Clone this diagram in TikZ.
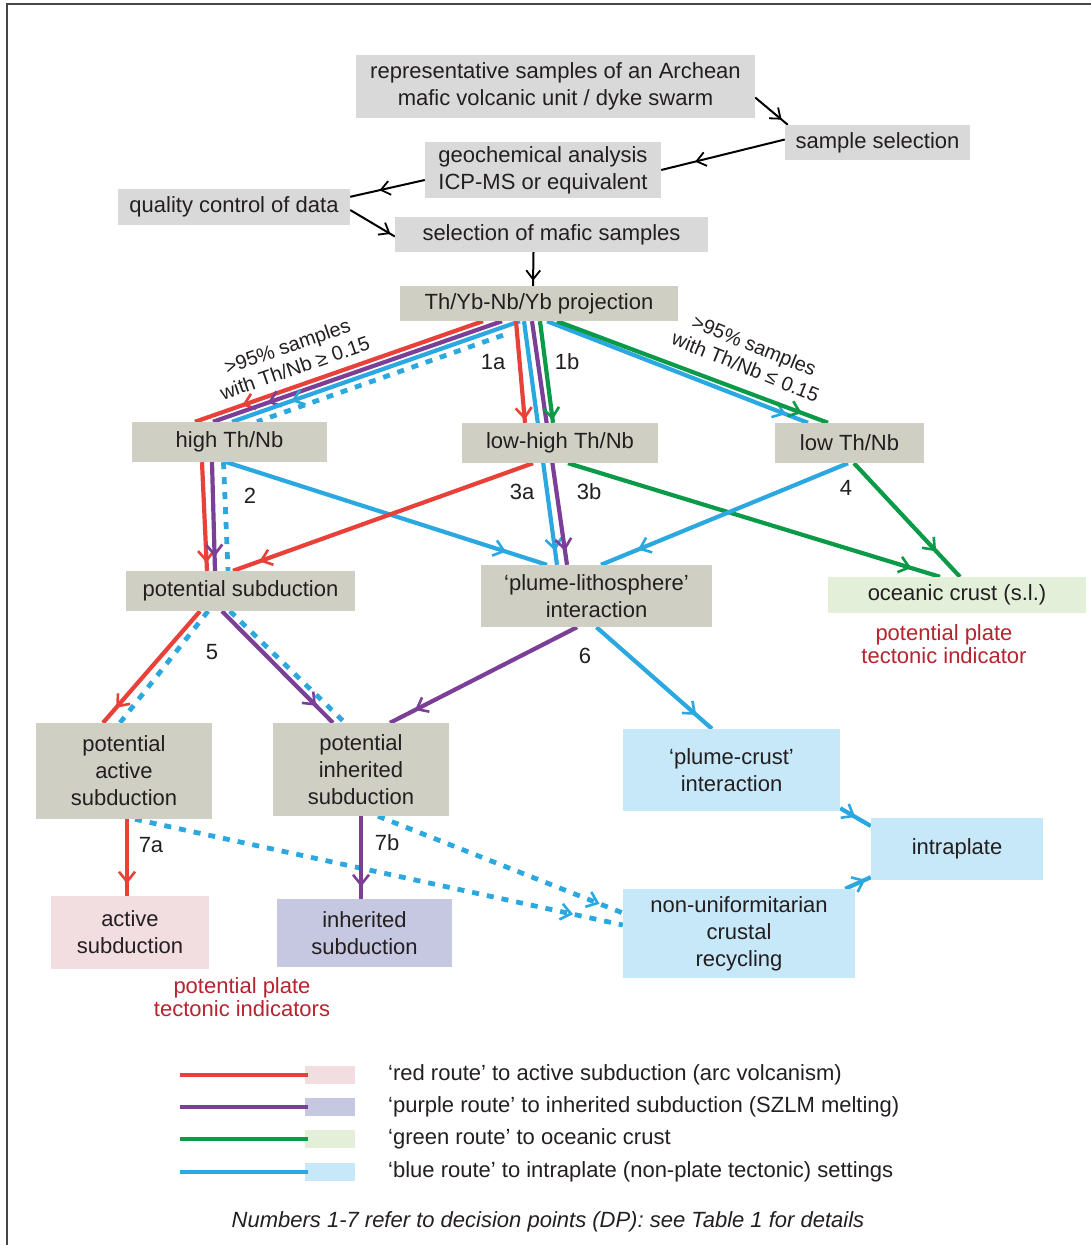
\documentclass[tikz,border=0pt]{standalone}
\usepackage{fontspec}
\setmainfont{Liberation Sans}
\usetikzlibrary{arrows.meta,decorations.markings,calc,backgrounds}
\definecolor{cRed}{RGB}{232,65,58}
\definecolor{cPurple}{RGB}{123,63,152}
\definecolor{cGreen}{RGB}{10,154,72}
\definecolor{cBlue}{RGB}{42,168,223}
\definecolor{cGray}{RGB}{217,217,217}
\definecolor{cKhaki}{RGB}{208,207,195}
\definecolor{cPink}{RGB}{242,221,224}
\definecolor{cLav}{RGB}{198,199,225}
\definecolor{cLGreen}{RGB}{227,239,217}
\definecolor{cLBlue}{RGB}{198,232,248}
\definecolor{cDRed}{RGB}{181,36,47}
\definecolor{cText}{RGB}{35,31,32}
\definecolor{cFrame}{RGB}{70,70,70}
\begin{document}
\begin{tikzpicture}[x=1pt,y={(0pt,-1pt)},
  box/.style={inner sep=0pt,align=center,font=\fontsize{22}{27}\selectfont,text=cText},
  gbox/.style={box,fill=cGray},
  kbox/.style={box,fill=cKhaki},
  lbl/.style={font=\fontsize{22}{27}\selectfont,text=cText,inner sep=0pt},
  rlbl/.style={font=\fontsize{20}{23}\selectfont,text=cText,inner sep=0pt,align=center},
  ind/.style={font=\fontsize{22}{23}\selectfont,text=cDRed,align=center,inner sep=0pt},
  blk/.style={draw=black,line width=2pt},
  route/.style={line width=4.2pt},
  am/.style={postaction={decorate},decoration={markings,mark=at position #1 with {\arrow{Straight Barb[length=10pt,width=16pt,line width=2.6pt]}}}},
  bam/.style={postaction={decorate},decoration={markings,mark=at position #1 with {\arrow{Straight Barb[length=9pt,width=14pt,line width=1.8pt]}}}},
  dots/.style={line width=4.8pt,dash pattern=on 7pt off 8pt},
]
\useasboundingbox (0,0) rectangle (1091,1245);
% boxes
\node[gbox,minimum width=399pt,minimum height=63pt] (rep) at (555.5,86.5) {representative samples of an Archean\\mafic volcanic unit / dyke swarm};
\node[gbox,minimum width=185pt,minimum height=35pt] (sel) at (877.5,142.5) {sample selection};
\node[gbox,minimum width=236pt,minimum height=56pt] (geo) at (543,170) {geochemical analysis\\ICP-MS or equivalent};
\node[gbox,minimum width=232pt,minimum height=36pt] (qc) at (234,207) {quality control of data};
\node[gbox,minimum width=313pt,minimum height=35pt] (maf) at (551.5,234.5) {selection of mafic samples};
\node[kbox,minimum width=278pt,minimum height=35pt] (proj) at (539,303.5) {Th/Yb-Nb/Yb projection};
\node[kbox,minimum width=195pt,minimum height=40pt] (high) at (229.5,442) {high Th/Nb};
\node[kbox,minimum width=196pt,minimum height=40pt] (lowhigh) at (560,443) {low-high Th/Nb};
\node[kbox,minimum width=149pt,minimum height=40pt] (low) at (849.5,443) {low Th/Nb};
\node[kbox,minimum width=229pt,minimum height=40pt] (psub) at (240.5,591) {potential subduction};
\node[kbox,minimum width=231pt,minimum height=62pt] (plith) at (596.5,596) {‘plume-lithosphere’\\interaction};
\node[box,fill=cLGreen,minimum width=258pt,minimum height=36pt] (ocean) at (957,595) {oceanic crust (s.l.)};
\node[kbox,minimum width=176pt,minimum height=96pt] (pas) at (124,771) {potential\\active\\subduction};
\node[kbox,minimum width=176pt,minimum height=93pt] (pis) at (361,769.5) {potential\\inherited\\subduction};
\node[box,fill=cLBlue,minimum width=217pt,minimum height=82pt] (pcrust) at (731.5,770) {‘plume-crust’\\interaction};
\node[box,fill=cLBlue,minimum width=172pt,minimum height=62pt] (intra) at (957,849) {intraplate};
\node[box,fill=cLBlue,minimum width=232pt,minimum height=89pt] (nucr) at (739,933.5) {non-uniformitarian\\crustal\\recycling};
\node[box,fill=cPink,minimum width=158pt,minimum height=73pt] (as) at (130,932.5) {active\\subduction};
\node[box,fill=cLav,minimum width=175pt,minimum height=68pt] (is) at (364.5,933) {inherited\\subduction};
% labels
\node[rlbl,rotate=19] (lblL) at (291,357) {>95\% samples\\with Th/Nb ≥ 0.15};
\node[rlbl,rotate=-22] (lblR) at (750,356) {>95\% samples\\with Th/Nb ≤ 0.15};
\node[lbl] (n1a) at (493,362) {1a};
\node[lbl] (n1b) at (567,362) {1b};
\node[lbl] (n2) at (250,496) {2};
\node[lbl] (n3a) at (522,492) {3a};
\node[lbl] (n3b) at (589,492) {3b};
\node[lbl] (n4) at (846,488) {4};
\node[lbl] (n5) at (212,652) {5};
\node[lbl] (n6) at (585,656) {6};
\node[lbl] (n7a) at (151,845) {7a};
\node[lbl] (n7b) at (387,843) {7b};
\node[ind] (ind1) at (944,644) {potential plate\\tectonic indicator};
\node[ind] (ind2) at (242,997) {potential plate\\tectonic indicators};
% legend
\foreach \yy/\cc/\ss/\nm/\tt in {1075/cRed/cPink/legA/{‘red route’ to active subduction (arc volcanism)},
  1107/cPurple/cLav/legB/{‘purple route’ to inherited subduction (SZLM melting)},
  1139/cGreen/cLGreen/legC/{‘green route’ to oceanic crust},
  1172/cBlue/cLBlue/legD/{‘blue route’ to intraplate (non-plate tectonic) settings}}{
  \fill[\ss] (305,\yy-9) rectangle (355,\yy+9);
  \draw[route,\cc] (180,\yy) -- (308,\yy);
  \node[lbl,anchor=west] (\nm) at (388,\yy) {\tt};
}
\node[lbl,font=\fontsize{22}{27}\selectfont\itshape] (foot) at (548,1222) {Numbers 1-7 refer to decision points (DP): see Table 1 for details};
\draw[line width=2.5pt,cFrame] (7,1245) -- (7,4) -- (1091,4);
\begin{pgfonlayer}{background}
\fill[white] (0,0) rectangle (1091,1245);
% black flow
\draw[blk,bam=-8pt] ($(rep.east)+(0,11)$) -- ($(sel.north west)+(3,0)$);
\draw[blk,bam=-35pt] ($(sel.west)+(0,-3)$) -- (geo.east);
\draw[blk,bam=-30pt] ($(geo.west)+(0,10)$) -- ($(qc.north east)+(0,8)$);
\draw[blk,bam=-5pt] ($(qc.east)+(0,3)$) -- ($(maf.west)+(0,2)$);
\draw[blk,bam=-5pt] ($(maf.south)+(-18,0)$) -- ($(proj.north)+(-6,0)$);
% left fan
\draw[route,cRed,am=-50pt] ($(proj.south)+(-56,0)$) -- ($(high.north)+(-34.5,0)$);
\draw[route,cPurple,am=-58pt] ($(proj.south)+(-37,0)$) -- ($(high.north)+(-16.5,0)$);
\draw[route,cBlue,am=-63pt] ($(proj.south)+(-19,0)$) -- ($(high.north)+(2.5,0)$);
\draw[route,cBlue,dots] ($(proj.south)+(-36,14)$) -- ($(high.north)+(27.5,0)$);
% vertical
\draw[route,cRed,am=-3pt] ($(proj.south)+(-23,0)$) -- ($(lowhigh.north)+(-35,0)$);
\draw[route,cBlue,am=-14pt] ($(proj.south)+(-15,0)$) -- ($(plith.north)+(-39.5,0)$);
\draw[route,cPurple,am=-14pt] ($(proj.south)+(-7,0)$) -- ($(plith.north)+(-29.5,0)$);
\draw[route,cGreen,am=-3pt] ($(proj.south)+(1,0)$) -- ($(lowhigh.north)+(-7,0)$);
% right fan
\draw[route,cBlue,am=-24pt] ($(proj.south)+(8,0)$) -- ($(low.north)+(-41.5,0)$);
\draw[route,cGreen,am=-28pt] ($(proj.south)+(18,0)$) -- ($(low.north)+(-21.5,0)$);
% from high
\draw[route,cRed,am=-8pt] ($(high.south)+(-27.5,0)$) -- ($(psub.north)+(-33.5,0)$);
\draw[route,cPurple,am=-14pt] ($(high.south)+(-17.5,0)$) -- ($(psub.north)+(-25.5,0)$);
\draw[route,cBlue,dots] ($(high.south)+(-6,0)$) -- ($(psub.north)+(-12.5,0)$);
\draw[route,cBlue,am=-43pt] ($(high.south)+(-3,0)$) -- ($(plith.north)+(-49.5,0)$);
% from low-high
\draw[route,cRed,am=-28pt] ($(lowhigh.south)+(-27,0)$) -- ($(psub.north)+(-7.5,0)$);
\draw[route,cGreen,am=-30pt] ($(lowhigh.south)+(8,0)$) -- ($(ocean.north)+(-17,0)$);
% from low
\draw[route,cBlue,am=-40pt] ($(low.south)+(-1.5,0)$) -- ($(plith.north)+(4.5,0)$);
\draw[route,cGreen,am=-35pt] ($(low.south)+(4.5,0)$) -- ($(ocean.north)+(3,0)$);
% from potential subduction
\draw[route,cRed,am=-20pt] ($(psub.south)+(-40.5,0)$) -- ($(pas.north)+(-21,0)$);
\draw[route,cBlue,dots] ($(psub.south)+(-32.5,0)$) -- ($(pas.north)+(-4,0)$);
\draw[route,cPurple,am=-24pt] ($(psub.south)+(-18.5,0)$) -- ($(pis.north)+(-28,0)$);
\draw[route,cBlue,dots] ($(psub.south)+(-10.5,0)$) -- ($(pis.north)+(-16,0)$);
% from plume-lithosphere
\draw[route,cPurple,am=-28pt] ($(plith.south)+(-19.5,0)$) -- ($(pis.north)+(29,0)$);
\draw[route,cBlue,am=-21pt] (plith.south) -- ($(pcrust.north)+(-19.5,0)$);
% bottom level
\draw[route,cRed,am=-12pt] ($(pas.south)+(3,0)$) -- ($(as.north)+(-3,0)$);
\draw[route,cBlue,dots,am=-51pt] ($(pas.south)+(11,0)$) -- ($(nucr.west)+(0,-8.5)$);
\draw[route,cPurple,am=-12pt] (pis.south) -- ($(is.north)+(-3.5,0)$);
\draw[route,cBlue,dots,am=-25pt] ($(pis.south)+(17,0)$) -- ($(nucr.west)+(0,-20.5)$);
\draw[route,cBlue,am=-18pt] ($(pcrust.south east)+(0,-3)$) -- ($(intra.west)+(0,-23)$);
\draw[route,cBlue,am=-6pt] ($(nucr.north east)+(-10,0)$) -- ($(intra.south west)+(0,-3)$);
\end{pgfonlayer}
\end{tikzpicture}
\end{document}
